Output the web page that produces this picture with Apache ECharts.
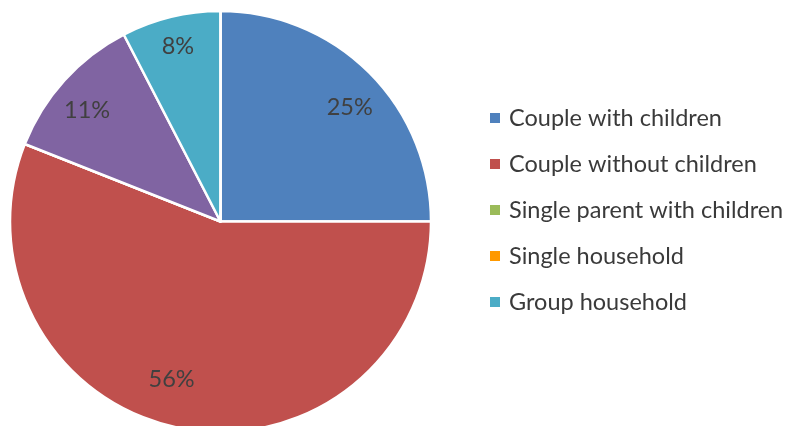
<!DOCTYPE html>
<html><head><meta charset="utf-8">
<script src="https://cdn.jsdelivr.net/npm/echarts@6/dist/echarts.min.js"></script>
<style>html,body{margin:0;padding:0;background:#fff}#c{width:788px;height:426px}</style>
</head><body><div id="c"></div>
<script>
const categories = ['Couple with children','Couple without children','Single parent with children','Other','Group household','Single household'];
const values = [25, 56, 0, 11.4, 7.6, 0];
const colors = ['#4F81BD','#C0504D','#9BBB59','#8064A2','#4BACC6','#FF9900'];
const legendNames = ['Couple with children','Couple without children','Single parent with children','Single household','Group household'];
// small label nudges (style only)
const labelNudge = [[5,10],[-16,-15],[0,0],[-3,7],[-1,-4],[0,0]];

const sliceData = categories.map((n,i)=>({name:n,value:values[i],itemStyle:{color:colors[i]}}));
const labelData = categories.map((n,i)=>({name:n,value:values[i],itemStyle:{color:'rgba(0,0,0,0)',borderWidth:0},label:{show:values[i]>0,offset:labelNudge[i]}}));

const chart = echarts.init(document.getElementById('c'));
chart.setOption({
  animation:false,
  legend:{
    orient:'vertical', left:488, top:106, padding:0, itemWidth:12, itemHeight:12, itemGap:22,
    data: legendNames,
    textStyle:{fontFamily:'Lato', fontSize:23.5, color:'#3a3a3a', lineHeight:23.5, padding:[0,0,0,3]},
    icon:'rect'
  },
  series:[
    {type:'pie', center:[220.5,221.5], radius:210.5, startAngle:90, clockwise:true,
     data:sliceData, label:{show:false}, labelLine:{show:false},
     itemStyle:{borderColor:'#fff', borderWidth:2.5}, silent:true, stillShowZeroSum:false,
     emphasis:{disabled:true}},
    {type:'pie', center:[220.5,221.5], radius:[135,210.5], startAngle:90, clockwise:true,
     data:labelData, percentPrecision:0, silent:true, legendHoverLink:false,
     label:{position:'inside', formatter:'{d}%', fontFamily:'Lato', fontSize:23.5, color:'#404040'},
     labelLine:{show:false}, emphasis:{disabled:true}}
  ]
});
</script></body></html>
